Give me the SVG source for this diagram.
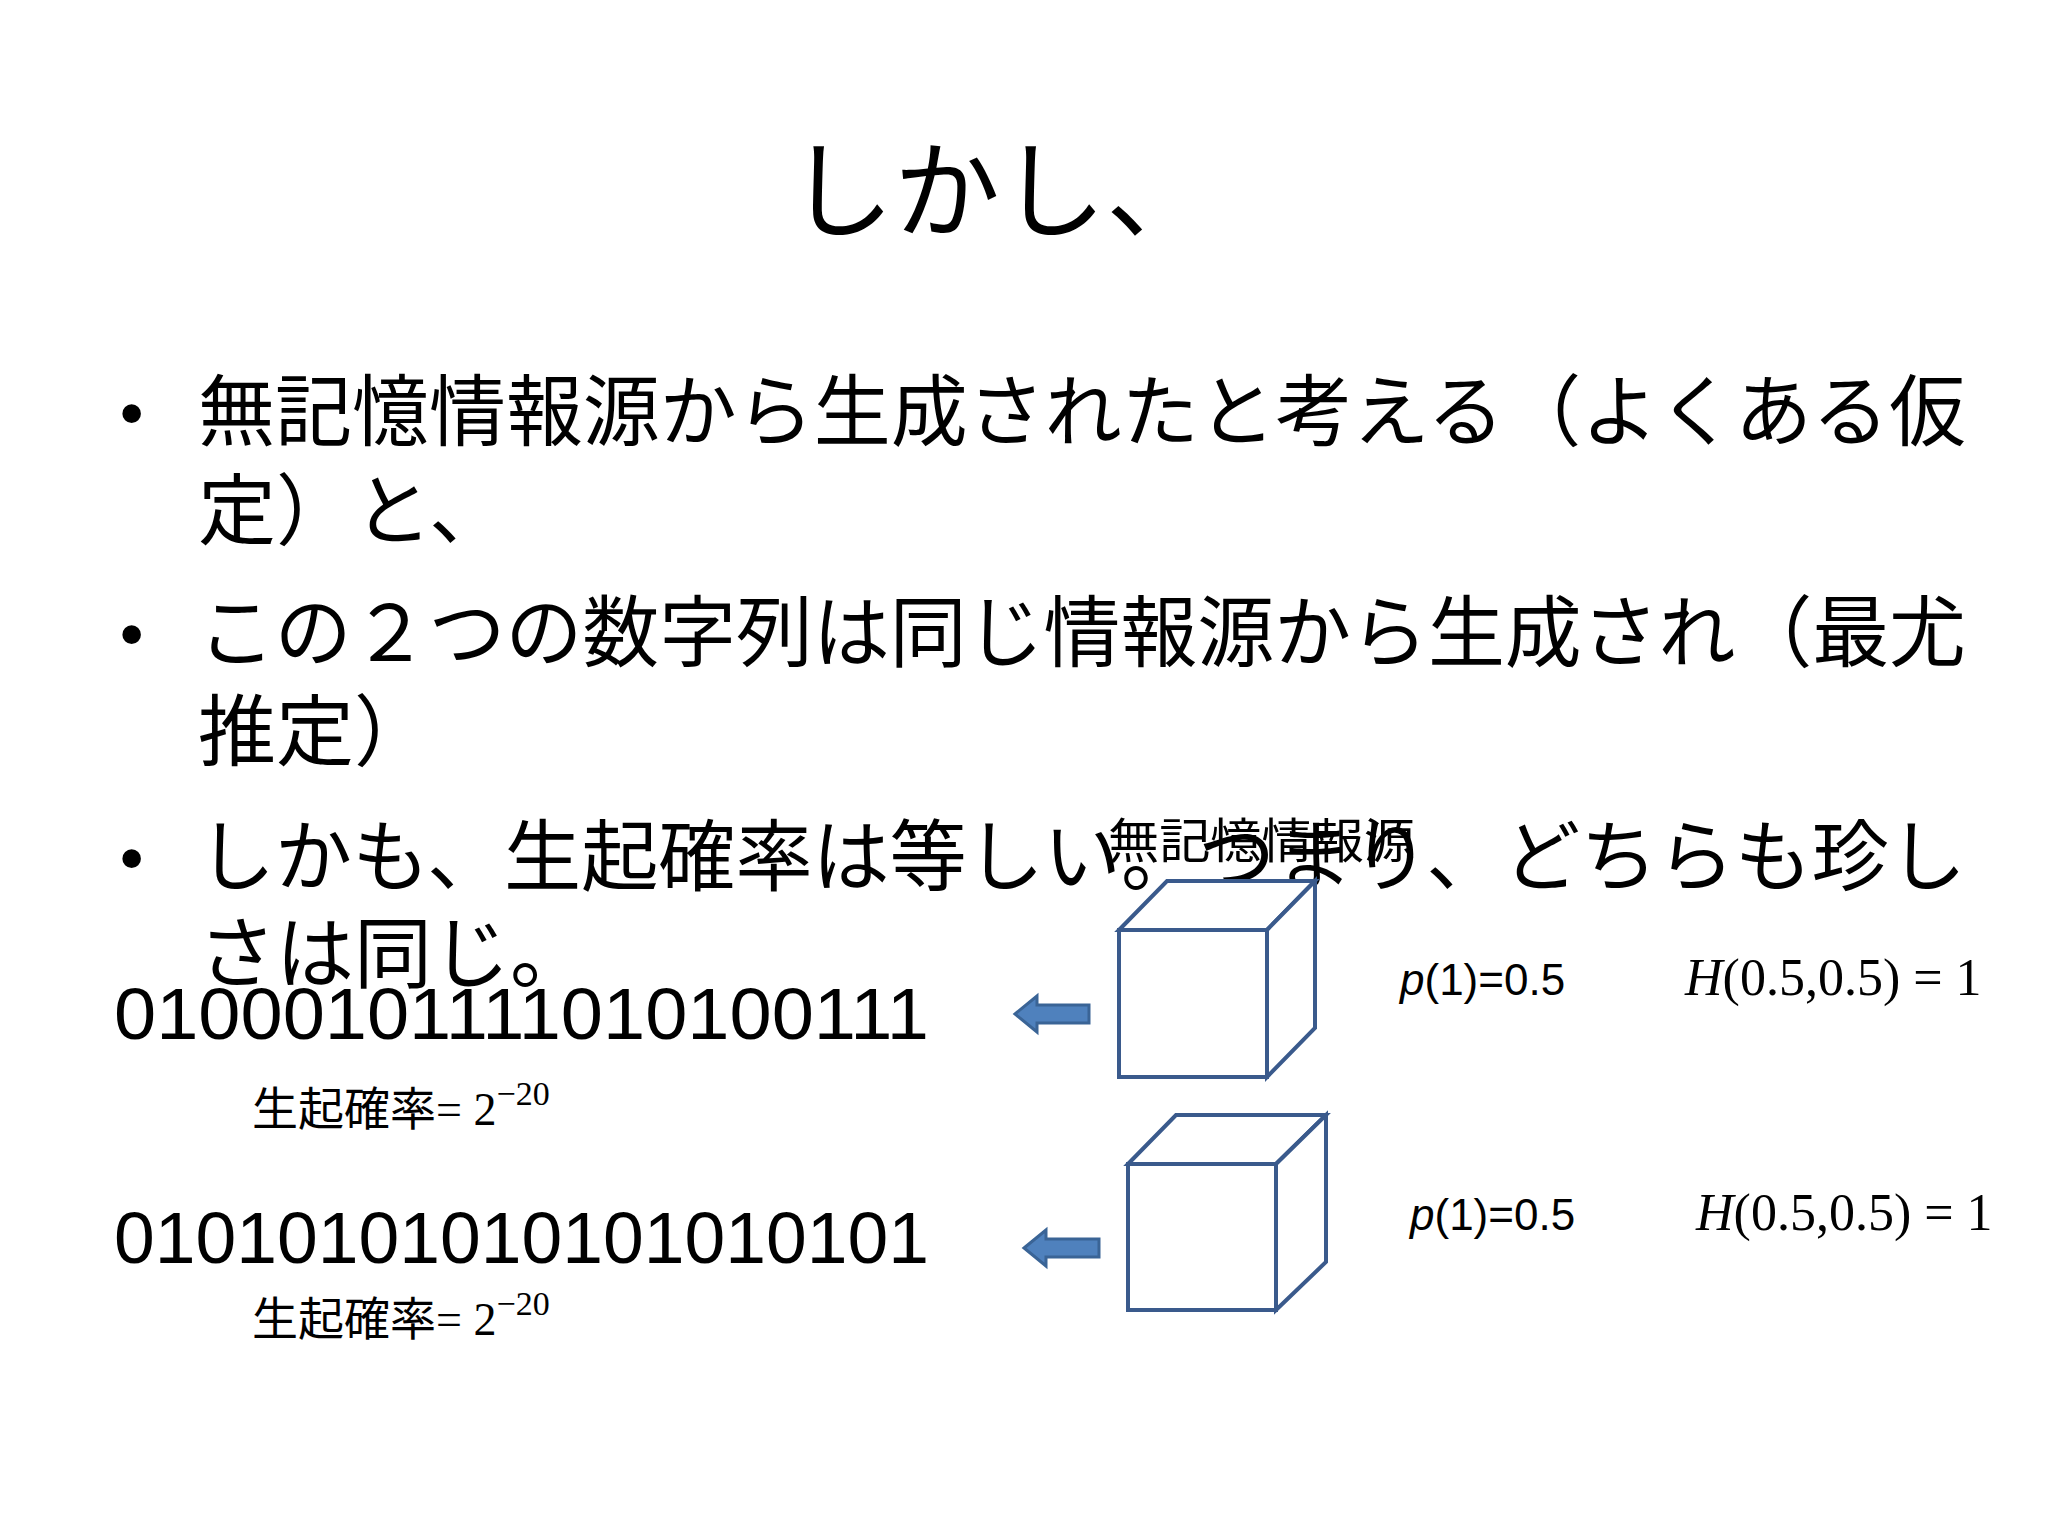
<svg xmlns="http://www.w3.org/2000/svg" width="2048" height="1536" viewBox="0 0 2048 1536">
<style>
.jp{font-family:"Liberation Serif","Noto Sans CJK JP",serif;fill:#000}
.b{font-size:78px}
.num{font-family:"Liberation Sans",sans-serif;font-size:72px;fill:#000}
.cube{fill:#fff;stroke:#3a5a8c;stroke-width:4;stroke-linejoin:miter}
.arr{fill:#4f81bd;stroke:#3a6496;stroke-width:3}
.p{font-family:"Liberation Sans",sans-serif;font-size:44px}
.h{font-family:"Liberation Serif",serif;font-size:52px}
</style>
<rect width="2048" height="1536" fill="#fff"/>
<g transform="translate(-7,-8)">
<g id="title"><text class="jp" x="1007" y="237" font-size="106" text-anchor="middle">しかし、</text></g>
<g id="bullets" class="jp b">
<text x="125" y="448">•</text>
<text x="205" y="448" textLength="1768" lengthAdjust="spacingAndGlyphs">無記憶情報源から生成されたと考える（よくある仮</text>
<text x="205" y="547">定）と、</text>
<text x="125" y="669">•</text>
<text x="205" y="669" textLength="1768" lengthAdjust="spacingAndGlyphs">この２つの数字列は同じ情報源から生成され（最尤</text>
<text x="205" y="768">推定）</text>
<text x="125" y="893">•</text>
<text x="205" y="893" textLength="1768" lengthAdjust="spacingAndGlyphs">しかも、生起確率は等しい。つまり、どちらも珍し</text>
<text x="205" y="990">さは同じ。</text>
</g>
<g id="seq1"><text class="num" x="121" y="1047" textLength="815" lengthAdjust="spacingAndGlyphs">01000101111010100111</text>
<text class="jp" x="259" y="1133" font-size="46">生起確率= 2<tspan dy="-20" font-size="34">−20</tspan></text></g>
<g id="seq2"><text class="num" x="121" y="1271" textLength="815" lengthAdjust="spacingAndGlyphs">01010101010101010101</text>
<text class="jp" x="259" y="1343" font-size="46">生起確率= 2<tspan dy="-20" font-size="34">−20</tspan></text></g>
<g id="connectors">
<path class="arr" d="M1022,1022 L1044,1004 L1044,1013 L1096,1013 L1096,1031 L1044,1031 L1044,1040 Z"/>
<path class="arr" d="M1031,1256 L1053,1238 L1053,1247 L1106,1247 L1106,1265 L1053,1265 L1053,1274 Z"/>
</g>
<g id="source1">
<path class="cube" d="M1126,938 L1174,889 L1322,889 L1274,938 Z"/>
<path class="cube" d="M1274,938 L1322,889 L1322,1036 L1274,1085 Z"/>
<rect class="cube" x="1126" y="938" width="148" height="147"/>
<text class="jp" x="1115" y="866" font-size="48" textLength="307" lengthAdjust="spacingAndGlyphs">無記憶情報源</text>
<text class="p" x="1407" y="1003"><tspan font-style="italic">p</tspan>(1)=0.5</text>
<text class="h" x="1692" y="1003"><tspan font-style="italic">H</tspan>(0.5,0.5) = 1</text>
</g>
<g id="source2">
<path class="cube" d="M1135,1172 L1183,1123 L1333,1123 L1283,1172 Z"/>
<path class="cube" d="M1283,1172 L1333,1123 L1333,1270 L1283,1318 Z"/>
<rect class="cube" x="1135" y="1172" width="148" height="146"/>
<text class="p" x="1417" y="1238"><tspan font-style="italic">p</tspan>(1)=0.5</text>
<text class="h" x="1703" y="1238"><tspan font-style="italic">H</tspan>(0.5,0.5) = 1</text>
</g>
</g>
</svg>
